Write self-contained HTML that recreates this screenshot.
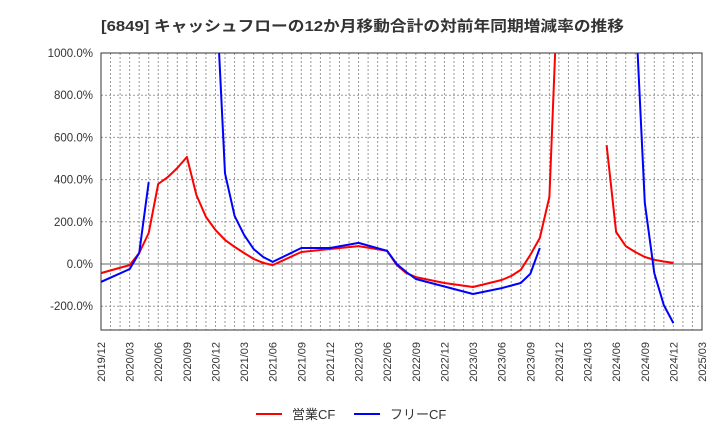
<!DOCTYPE html>
<html><head><meta charset="utf-8"><style>
body{margin:0;background:#fff;}
svg text{font-family:"Liberation Sans","Noto Sans CJK JP",sans-serif;}
</style></head><body>
<svg id="chart" width="720" height="440" xmlns="http://www.w3.org/2000/svg">
<text x="101" y="31" font-size="15" font-weight="bold" fill="#333" textLength="523" lengthAdjust="spacingAndGlyphs">[6849]  キャッシュフローの12か月移動合計の対前年同期増減率の推移</text>
<g id="grid"></g><g id="axes"></g>
<defs><clipPath id="clip"><rect x="101" y="53" width="601" height="277"/></clipPath></defs>
<g id="series" clip-path="url(#clip)"></g>
<g>
<line x1="256" y1="414" x2="282" y2="414" stroke="#f00" stroke-width="2"/>
<text x="292" y="419" font-size="13" fill="#333">営業CF</text>
<line x1="354" y1="414" x2="380" y2="414" stroke="#00f" stroke-width="2"/>
<text x="390" y="419" font-size="13" fill="#333">フリーCF</text>
</g>
</svg>
<script>
const xTickLabels=["2019/12","2020/03","2020/06","2020/09","2020/12","2021/03","2021/06","2021/09","2021/12","2022/03","2022/06","2022/09","2022/12","2023/03","2023/06","2023/09","2023/12","2024/03","2024/06","2024/09","2024/12","2025/03"];
const yTicks=[-200,0,200,400,600,800,1000];
const opDates=["2019/12","2020/03","2020/04","2020/05","2020/06","2020/07","2020/08","2020/09","2020/10","2020/11","2020/12","2021/01","2021/02","2021/03","2021/04","2021/05","2021/06","2021/09","2021/12","2022/03","2022/06","2022/07","2022/08","2022/09","2022/12","2023/03","2023/06","2023/07","2023/08","2023/09","2023/10","2023/11","2023/12","2024/04","2024/05","2024/06","2024/07","2024/08","2024/09","2024/10","2024/11","2024/12"];
const opValues=[-43,-5,52,147,379,412,455,507,327,223,161,114,81,52,24,5,-5,57,71,85,62,-5,-43,-62,-90,-109,-76,-57,-28,43,123,318,1450,null,564,152,85,57,33,20,12,5];
const fcfDates=["2019/12","2020/03","2020/04","2020/05","2020/06","2020/12","2021/01","2021/02","2021/03","2021/04","2021/05","2021/06","2021/09","2021/12","2022/03","2022/06","2022/07","2022/08","2022/09","2023/03","2023/06","2023/08","2023/09","2023/10","2023/11","2024/08","2024/09","2024/10","2024/11","2024/12"];
const fcfValues=[-85,-24,52,388,null,1350,430,228,138,71,33,10,76,76,100,62,0,-38,-71,-142,-114,-90,-47,76,null,1240,290,-43,-195,-280];

const X0=101,X1=702,Y0=53,Y1=330;
const mIdx=s=>{const [y,m]=s.split('/').map(Number);return (y-2019)*12+m-12;};
const xs=s=>X0+(X1-X0)*mIdx(s)/63;
const ys=v=>264-(v)*(264-53)/1000;
const NS="http://www.w3.org/2000/svg";
function mk(t,a,p){const e=document.createElementNS(NS,t);for(const k in a)e.setAttribute(k,a[k]);p.appendChild(e);return e;}
const grid=document.getElementById('grid'),axes=document.getElementById('axes'),ser=document.getElementById('series');
for(let i=1;i<63;i++){const x=X0+(X1-X0)*i/63;const l=mk('line',{x1:x,y1:Y0,x2:x,y2:Y1,stroke:'#999','stroke-dasharray':'2,2','stroke-width':1},grid);

}
yTicks.forEach(v=>{const y=ys(v);const l=mk('line',{x1:X0,y1:y,x2:X1,y2:y,stroke:v===0?'#666':'#999','stroke-dasharray':v===0?'none':'2,2','stroke-width':1},grid);


const t=mk('text',{x:93,y:y+4,'font-size':11.5,'text-anchor':'end',fill:'#333'},axes);t.textContent=v.toFixed(1)+'%';

});
const fr=mk('rect',{x:X0,y:Y0,width:X1-X0,height:Y1-Y0,fill:'none',stroke:'#333','stroke-width':1},axes);


xTickLabels.forEach(s=>{const x=xs(s);const t=mk('text',{x:0,y:0,'font-size':11,'text-anchor':'end',fill:'#333',transform:`translate(${x+4},342) rotate(-90)`},axes);t.textContent=s;

});
function draw(dates,vals,color,name){let segs=[],cur=[];dates.forEach((d,i)=>{if(vals[i]==null){if(cur.length)segs.push(cur);cur=[];}else cur.push(xs(d).toFixed(1)+','+ys(vals[i]).toFixed(1));});if(cur.length)segs.push(cur);
segs.forEach(sg=>{const p=mk('polyline',{points:sg.join(' '),fill:'none',stroke:color,'stroke-width':2,'stroke-linejoin':'round'},ser);

});}
draw(opDates,opValues,'#f00','operating-cf-line');
draw(fcfDates,fcfValues,'#00f','free-cf-line');
</script>
</body></html>
